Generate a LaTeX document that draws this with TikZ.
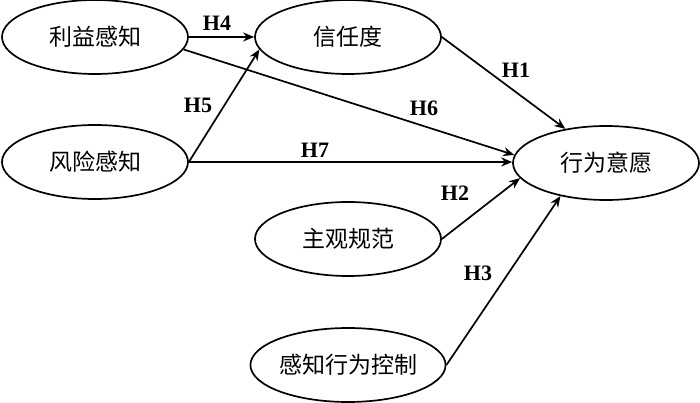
\documentclass[tikz,border=0pt]{standalone}
\usepackage{fontspec}
\setmainfont{Liberation Serif}
\newfontfamily\cjk{Noto Sans CJK SC}
\usepackage{tikz}
\usetikzlibrary{shapes.geometric}
\usetikzlibrary{arrows.meta}
\usetikzlibrary{positioning}

\begin{document}
\begin{tikzpicture}[x=1pt, y=-1pt, line width=1.7pt,
    factor/.style={ellipse, draw, minimum width=186pt, minimum height=74pt, inner sep=0pt, font=\cjk\fontsize{23}{23}\selectfont},
    hyp/.style={font=\bfseries\fontsize{22}{22}\selectfont, inner sep=0pt},
    path/.style={-{Stealth[length=11pt, width=9pt]}}]

        \useasboundingbox (0,0) rectangle (700,403);

        % constructs
        \node[factor] (benefit) at (95, 37) {利益感知};
        \node[factor] (risk) at (95, 162) {风险感知};
        \node[factor] (trust) at (348, 37) {信任度};
        \node[factor] (norm) at (348, 239) {主观规范};
        \node[factor] (control) at (348, 365) {感知行为控制};
        \node[factor] (intent) at (606, 163) {行为意愿};

        % hypotheses
        \draw[path] (benefit.east) -- (trust.west);
        \draw[path] (risk.east) -- (trust.188);
        \draw[path] (benefit.-8) -- (intent.175);
        \draw[path] (risk.east) -- (risk.east -| intent.west);
        \draw[path] (trust.east) -- (intent.140);
        \draw[path] (norm.east) -- (intent.190);
        \draw[path] (control.east) -- (intent.216);

        \node[hyp] (h4) at (217, 23) {H4};
        \node[hyp] (h5) at (198, 105) {H5};
        \node[hyp] (h6) at (424, 108) {H6};
        \node[hyp] (h7) at (315, 150) {H7};
        \node[hyp] (h1) at (516, 70) {H1};
        \node[hyp] (h2) at (455, 193) {H2};
        \node[hyp] (h3) at (478, 273) {H3};

      \end{tikzpicture}
\end{document}
